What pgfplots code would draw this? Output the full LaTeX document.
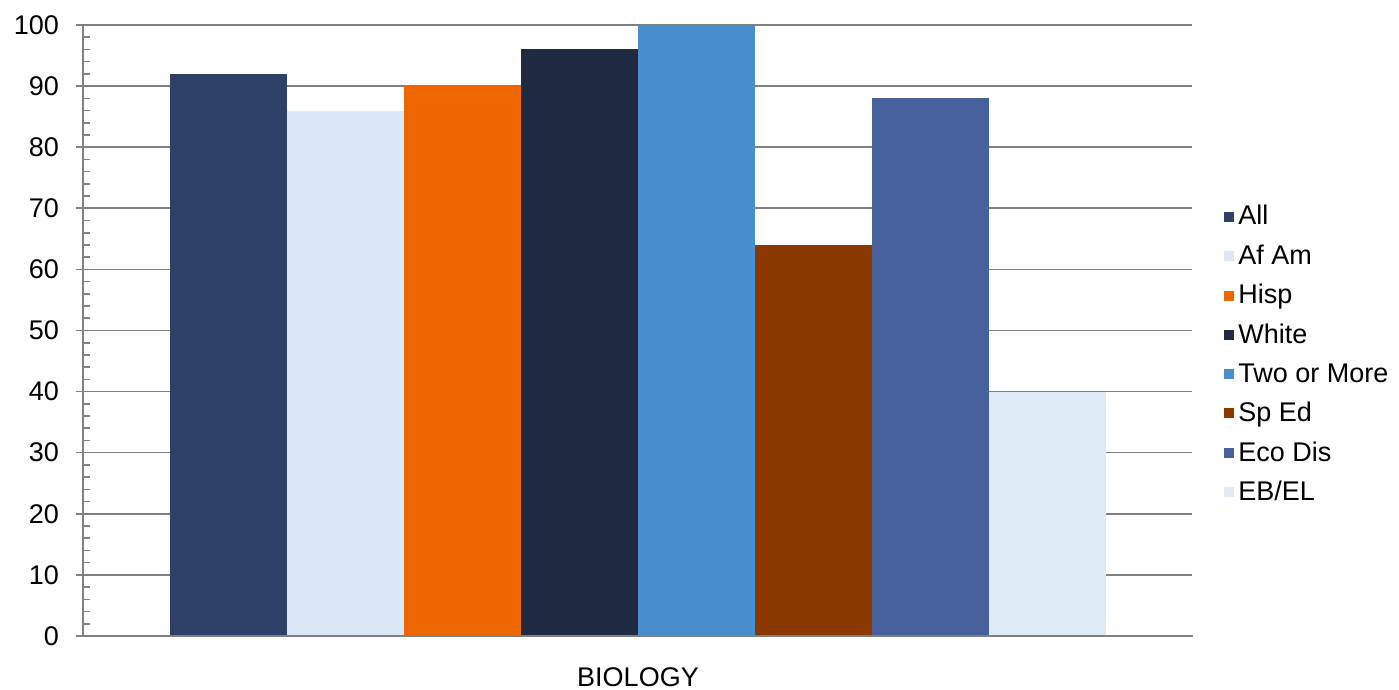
\documentclass[border=0pt]{standalone}
\usepackage{pgfplots}
\pgfplotsset{compat=1.18}
\usepackage{fontspec}
\setmainfont{Liberation Sans}
\definecolor{cAll}{RGB}{47,64,104}
\definecolor{cAfAm}{RGB}{219,231,244}
\definecolor{cHisp}{RGB}{238,102,0}
\definecolor{cWhite}{RGB}{30,41,66}
\definecolor{cTwo}{RGB}{72,141,206}
\definecolor{cSpEd}{RGB}{138,56,0}
\definecolor{cEco}{RGB}{69,96,154}
\definecolor{cEB}{RGB}{222,234,245}
\definecolor{axgray}{RGB}{128,128,128}
\begin{document}
\begin{tikzpicture}
\useasboundingbox (0,0) rectangle (699.5pt,345pt);
\begin{axis}[
 at={(41.5pt,27pt)}, anchor=south west,
 scale only axis, width=555pt, height=305.5pt,
 xmin=-0.5, xmax=0.5, ymin=0, ymax=100,
 ybar=0pt, bar width=0.1054,
 axis x line*=bottom, axis y line*=left,
 axis line style={axgray, line width=0.8pt},
 ytick={0,10,...,100}, minor y tick num=4,
 ymajorgrids, xmajorgrids=false, grid style={axgray, line width=0.8pt},
 xtick={0}, xticklabels={BIOLOGY},
 xtick style={draw=none},
 xticklabel style={yshift=-9pt},
 tick align=outside, major tick length=3.5pt, minor tick length=3.5pt,
 minor tick style={xshift=3.5pt},
 tick style={axgray, line width=0.8pt},
 tick label style={font=\fontsize{13.5}{16}\selectfont},
 yticklabel style={xshift=-5pt},
 /pgf/number format/assume math mode=true,
 legend style={at={(1,0.4607)}, anchor=west, xshift=12.5pt, draw=none, fill=none,
   font=\fontsize{13.5}{16}\selectfont, row sep=4.5pt,
   cells={anchor=west}},
 legend image code/.code={\fill[#1] (0pt,-2.5pt) rectangle (5pt,2.5pt);},
]
\addplot[fill=cAll, draw=none] coordinates {(0,92)};
\addplot[fill=cAfAm, draw=none] coordinates {(0,86)};
\addplot[fill=cHisp, draw=none] coordinates {(0,90)};
\addplot[fill=cWhite, draw=none] coordinates {(0,96)};
\addplot[fill=cTwo, draw=none] coordinates {(0,100)};
\addplot[fill=cSpEd, draw=none] coordinates {(0,64)};
\addplot[fill=cEco, draw=none] coordinates {(0,88)};
\addplot[fill=cEB, draw=none] coordinates {(0,40)};
\legend{All, Af Am, Hisp, White, Two or More, Sp Ed, Eco Dis, EB/EL}
\draw[white, line width=1.6pt] ([xshift=0.3pt,yshift=0.6pt]rel axis cs:1,0) -- ([xshift=0.3pt,yshift=1pt]rel axis cs:1,1);
\draw[axgray, line width=0.8pt] (rel axis cs:0,0) -- (rel axis cs:1,0);
\draw[axgray, line width=0.8pt] (rel axis cs:0,0) -- ++(0,-3.5pt);
\draw[axgray, line width=0.8pt] (rel axis cs:1,0) -- ++(0,-3.5pt);
\end{axis}
\end{tikzpicture}
\end{document}
